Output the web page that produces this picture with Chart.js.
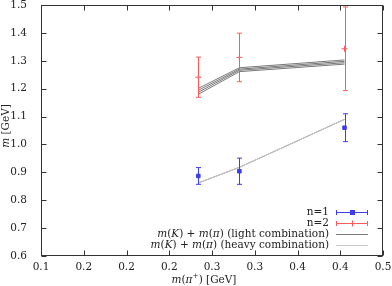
<!DOCTYPE html>
<html>
<head>
<meta charset="utf-8">
<script src="https://cdn.jsdelivr.net/npm/chart.js@4.4.0/dist/chart.umd.min.js"></script>
<style>
  html, body { margin: 0; padding: 0; background: #fff; }
</style>
</head>
<body>
<canvas id="myChart" width="392" height="286"></canvas>
<script>
// valores
var pionMass = [0.284, 0.332, 0.455];
var n1Mass = [0.887, 0.904, 1.060];
var n1Err = [0.030, 0.047, 0.050];
var n2Mass = [1.241, 1.312, 1.343];
var n2Err = [0.072, 0.087, 0.150];
var lightLow = [0.862, 0.918, 1.090];
var lightA = [1.201, 1.275, 1.303];
var lightB = [1.194, 1.270, 1.298];
var lightC = [1.187, 1.266, 1.293];
var lightD = [1.180, 1.261, 1.288];
var heavyLow = [0.862, 0.918, 1.090];
var xTickLabels = ['0.1', '0.2', '0.2', '0.2', '0.3', '0.3', '0.4', '0.4', '0.5'];

var BLUE = '#3c3cf0';
var RED = '#ff5a5a';
var LIGHT = '#787878';
var HEAVY = '#c8c8c8';
var SERIF = '"DejaVu Serif", "Liberation Serif", serif';
var FS = 10.5;

function pts(ys) {
  return ys.map(function (y, i) { return { x: pionMass[i], y: y }; });
}

function lineSet(label, ys, color) {
  return {
    label: label, data: pts(ys), showLine: true, borderColor: color,
    borderWidth: 1, pointRadius: 0, fill: false, order: 2
  };
}

function runFont(r, size) {
  return (r.i ? 'italic ' : '') + (r.sup ? size * 0.7 : size) + 'px ' + SERIF;
}

// desenha texto com partes em itálico / sobrescrito
function drawRuns(c, runs, x, y, align, size) {
  var w = 0;
  runs.forEach(function (r) { c.font = runFont(r, size); w += c.measureText(r.t).width; });
  var cx = align === 'right' ? x - w : (align === 'center' ? x - w / 2 : x);
  c.textAlign = 'left';
  c.textBaseline = 'middle';
  runs.forEach(function (r) {
    c.font = runFont(r, size);
    c.fillText(r.t, cx, r.sup ? y - size * 0.38 : y);
    cx += c.measureText(r.t).width;
  });
}

function mkmpi(tail) {
  return [{ t: 'm', i: true }, { t: '(' }, { t: 'K', i: true }, { t: ') + ' },
          { t: 'm', i: true }, { t: '(' }, { t: 'π', i: true }, { t: ') ' + tail }];
}

var errorBars = {
  id: 'errorBars',
  afterDatasetsDraw: function (chart) {
    var c = chart.ctx, xs = chart.scales.x, ys = chart.scales.y;
    chart.data.datasets.forEach(function (ds) {
      if (!ds.errors) return;
      c.save();
      c.strokeStyle = ds.borderColor;
      c.lineWidth = 1;
      ds.data.forEach(function (p, i) {
        var px = Math.round(xs.getPixelForValue(p.x)) + 0.5;
        var top = ys.getPixelForValue(p.y + ds.errors[i]);
        var bot = ys.getPixelForValue(p.y - ds.errors[i]);
        c.beginPath();
        c.moveTo(px, top); c.lineTo(px, bot);
        c.moveTo(px - 2.5, top); c.lineTo(px + 2.5, top);
        c.moveTo(px - 2.5, bot); c.lineTo(px + 2.5, bot);
        c.stroke();
      });
      c.restore();
    });
  }
};

var frame = {
  id: 'frame',
  afterDraw: function (chart) {
    var c = chart.ctx, a = chart.chartArea, xs = chart.scales.x, ys = chart.scales.y;
    var L = Math.round(a.left) + 0.5, R = Math.round(a.right) - 0.5;
    var T = Math.round(a.top) + 0.5, B = Math.round(a.bottom) - 0.5;
    c.save();
    c.strokeStyle = '#333';
    c.lineWidth = 1;
    c.strokeRect(L, T, R - L, B - T);
    c.beginPath();
    xs.ticks.forEach(function (t) {
      var px = Math.round(xs.getPixelForValue(t.value)) + 0.5;
      c.moveTo(px, B); c.lineTo(px, B - 5);
      c.moveTo(px, T); c.lineTo(px, T + 5);
    });
    ys.ticks.forEach(function (t) {
      var py = Math.round(ys.getPixelForValue(t.value)) + 0.5;
      c.moveTo(L, py); c.lineTo(L + 5, py);
      c.moveTo(R, py); c.lineTo(R - 5, py);
    });
    c.stroke();

    c.fillStyle = '#222';
    // titulos dos eixos
    drawRuns(c, [{ t: 'm', i: true }, { t: '(' }, { t: 'π', i: true }, { t: '+', sup: true },
                 { t: ') [GeV]' }], 204, 280, 'center', FS);
    c.save();
    c.translate(6, 126);
    c.rotate(-Math.PI / 2);
    drawRuns(c, [{ t: 'm', i: true }, { t: ' [GeV]' }], 0, 0, 'center', FS);
    c.restore();

    // legenda no estilo gnuplot
    var tx = 329, x0 = 336, x1 = 368, xm = 352;
    var rows = [
      { runs: [{ t: 'n=1' }], y: 212, color: BLUE, err: 'rect' },
      { runs: [{ t: 'n=2' }], y: 223, color: RED, err: 'cross' },
      { runs: mkmpi('(light combination)'), y: 234, color: LIGHT },
      { runs: mkmpi('(heavy combination)'), y: 245, color: HEAVY }
    ];
    rows.forEach(function (r) {
      c.fillStyle = '#222';
      drawRuns(c, r.runs, tx, r.y, 'right', FS);
      var y = r.y + 0.5;
      c.strokeStyle = r.color;
      c.beginPath();
      c.moveTo(x0, y); c.lineTo(x1, y);
      if (r.err) {
        c.moveTo(x0 + 0.5, y - 2.5); c.lineTo(x0 + 0.5, y + 2.5);
        c.moveTo(x1 - 0.5, y - 2.5); c.lineTo(x1 - 0.5, y + 2.5);
      }
      if (r.err === 'cross') {
        c.moveTo(xm + 0.5, y - 3); c.lineTo(xm + 0.5, y + 3);
      }
      c.stroke();
      if (r.err === 'rect') {
        c.fillStyle = r.color;
        c.fillRect(xm - 2, y - 2.5, 5, 5);
      }
    });
    c.restore();
  }
};

var ctx = document.getElementById('myChart');

var myChart = new Chart(ctx, {
  type: 'scatter',
  data: {
    datasets: [
      lineSet('heavy low', heavyLow, HEAVY),
      lineSet('light low', lightLow, LIGHT),
      lineSet('light A', lightA, LIGHT),
      lineSet('light B', lightB, LIGHT),
      lineSet('light C', lightC, LIGHT),
      lineSet('light D', lightD, LIGHT),
      {
        label: 'n=1', data: pts(n1Mass), errors: n1Err, pointStyle: 'rect',
        pointRadius: 2.5, backgroundColor: BLUE, borderColor: BLUE, borderWidth: 1, order: 1
      },
      {
        label: 'n=2', data: pts(n2Mass), errors: n2Err, pointStyle: 'cross',
        pointRadius: 3, backgroundColor: RED, borderColor: RED, borderWidth: 1, order: 1
      }
    ]
  },
  options: {
    responsive: false,
    animation: false,
    devicePixelRatio: 1,
    layout: { padding: { top: 5, right: 9, left: 0, bottom: 0 } },
    plugins: { legend: { display: false }, tooltip: { enabled: false } },
    scales: {
      x: {
        type: 'linear', min: 0.1, max: 0.5,
        grid: { display: false, drawTicks: false }, border: { display: false },
        ticks: {
          stepSize: 0.05, padding: 5, color: '#222', maxRotation: 0,
          font: { family: SERIF, size: FS },
          callback: function (v, i) { return xTickLabels[i]; }
        },
        afterFit: function (s) { s.height = 30; s.paddingLeft = 0; s.paddingRight = 0; }
      },
      y: {
        type: 'linear', min: 0.6, max: 1.5,
        grid: { display: false, drawTicks: false }, border: { display: false },
        ticks: {
          stepSize: 0.1, padding: 14, color: '#222',
          font: { family: SERIF, size: FS },
          callback: function (v) { return v.toFixed(1); }
        },
        afterFit: function (s) { s.width = 41; s.paddingTop = 0; s.paddingBottom = 0; }
      }
    }
  },
  plugins: [errorBars, frame]
});
</script>
</body>
</html>
